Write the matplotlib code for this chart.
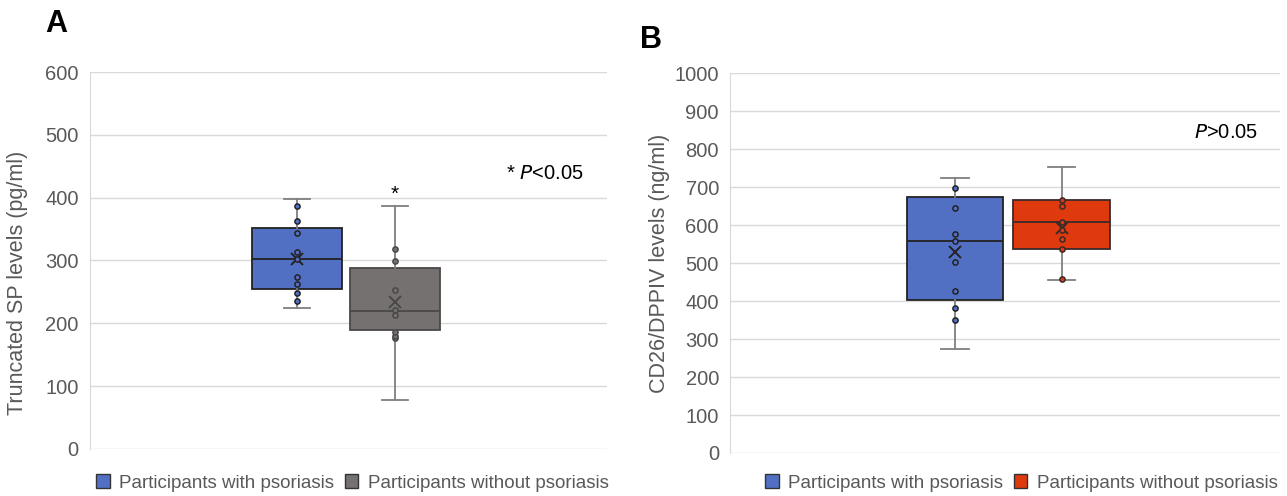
import matplotlib.pyplot as plt
from matplotlib.patches import Patch

plt.rcParams['font.family'] = ['Liberation Sans', 'DejaVu Sans']

# Panel A - truncated SP levels (pg/ml)
groups = ['Participants with psoriasis', 'Participants without psoriasis']
sp_with_pts = [236, 249, 262, 274, 302, 313, 343, 363, 387]
sp_without_pts = [176, 180, 186, 213, 222, 253, 299, 319]
sp_with_stats = dict(whislo=224, q1=254, med=302, q3=352, whishi=398, mean=302)
sp_without_stats = dict(whislo=78, q1=190, med=219, q3=288, whishi=387, mean=234)

# Panel B - CD26/DPPIV levels (ng/ml)
cd_with_pts = [351, 382, 426, 502, 558, 576, 646, 697]
cd_without_pts = [458, 536, 563, 586, 602, 608, 651, 666]
cd_with_stats = dict(whislo=273, q1=404, med=558, q3=673, whishi=724, mean=529)
cd_without_stats = dict(whislo=456, q1=536, med=608, q3=666, whishi=752, mean=593)

blue = '#5170C4'
gray = '#767171'
red = '#DE3A0E'
txt = '#595959'
grid = '#D9D9D9'

fig = plt.figure(figsize=(12.87, 4.96), dpi=100)
axA = fig.add_axes([0.0699, 0.0948, 0.4017, 0.760])
axB = fig.add_axes([0.5672, 0.0867, 0.4274, 0.766])


def draw_panel(ax, stats, pts, colors, edges, pos, width, ymax):
    for st, p, c, e, x in zip(stats, pts, colors, edges, pos):
        ax.bxp([st], positions=[x], widths=width, showmeans=True, showfliers=False,
               patch_artist=True, manage_ticks=False,
               boxprops=dict(facecolor=c, edgecolor=e, linewidth=1.3),
               medianprops=dict(color=e, linewidth=1.3),
               whiskerprops=dict(color='#7F7F7F', linewidth=1.3),
               capprops=dict(color='#7F7F7F', linewidth=1.3),
               capwidths=0.05,
               meanprops=dict(marker='x', markeredgecolor=e, markersize=8, markeredgewidth=1.4))
        ax.scatter([x] * len(p), p, s=14, facecolor=c, edgecolor=e, linewidth=1.1, zorder=4)
    ax.set_xlim(0, 1)
    ax.set_ylim(0, ymax)
    ax.set_yticks(range(0, ymax + 1, 100))
    ax.set_xticks([])
    ax.yaxis.grid(True, color=grid, linewidth=1)
    ax.set_axisbelow(True)
    for s in ['top', 'right', 'bottom']:
        ax.spines[s].set_visible(False)
    ax.spines['left'].set_color(grid)
    ax.tick_params(axis='y', length=0, labelsize=14.5, labelcolor=txt, pad=8)


draw_panel(axA, [sp_with_stats, sp_without_stats], [sp_with_pts, sp_without_pts],
           [blue, gray], ['#222222', '#4A4747'], [0.400, 0.590], 0.174, 600)
draw_panel(axB, [cd_with_stats, cd_without_stats], [cd_with_pts, cd_without_pts],
           [blue, red], ['#222222', '#3A2A2A'], [0.409, 0.603], 0.176, 1000)

axA.set_ylabel('Truncated SP levels (pg/ml)', fontsize=15.5, color=txt)
axA.yaxis.set_label_coords(-0.12, 0.44)
axB.set_ylabel('CD26/DPPIV levels (ng/ml)', fontsize=15.5, color=txt)
axB.yaxis.set_label_coords(-0.109, 0.5)

axA.text(0.955, 0.732, '* $\\it{P}$<0.05', transform=axA.transAxes, ha='right', va='center',
         fontsize=14.5, color='black')
axA.text(0.590, 406, '*', ha='center', va='center', fontsize=15, color='black')
axB.text(0.961, 0.844, '$\\it{P}$>0.05', transform=axB.transAxes, ha='right', va='center',
         fontsize=14.5, color='black')

fig.text(45 / 1287, 1 - 24 / 496, 'A', fontsize=22, fontweight='bold', va='center', ha='left')
fig.text(640 / 1287, 1 - 40 / 496, 'B', fontsize=22, fontweight='bold', va='center', ha='left')

for ax, cols, cx in [(axA, [blue, gray], 352.5 / 1287), (axB, [blue, red], 1021.5 / 1287)]:
    handles = [Patch(facecolor=c, edgecolor='#333333', linewidth=1) for c in cols]
    fig.legend(handles, groups, loc='center', bbox_to_anchor=(cx, 1 - 483 / 496),
               ncol=2, frameon=False, fontsize=13.5, labelcolor=txt,
               handlelength=0.7, handleheight=0.7, handletextpad=0.5, columnspacing=0.6)

fig.savefig('out.png', dpi=100)
